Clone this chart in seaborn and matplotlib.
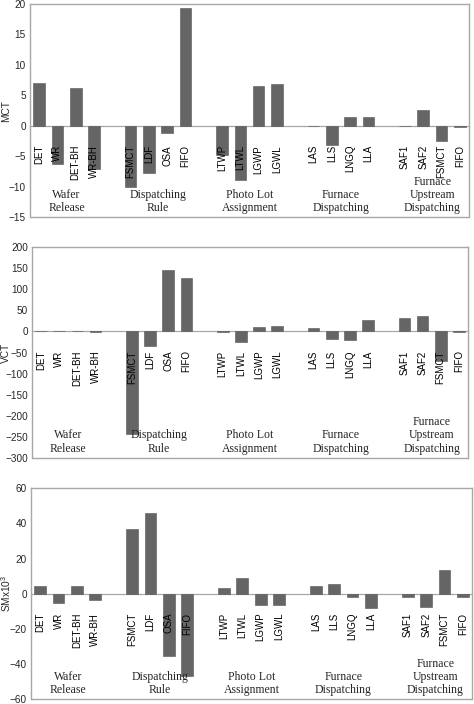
import matplotlib
matplotlib.use("Agg")
import matplotlib.pyplot as plt
import matplotlib.transforms as mtransforms
import numpy as np
import pandas as pd
import seaborn as sns

# ---------------- data ----------------
groups = ["Wafer\nRelease", "Dispatching\nRule", "Photo Lot\nAssignment",
          "Furnace\nDispatching", "Furnace\nUpstream\nDispatching"]
members = [["DET", "WR", "DET-BH", "WR-BH"],
           ["FSMCT", "LDF", "OSA", "FIFO"],
           ["LTWP", "LTWL", "LGWP", "LGWL"],
           ["LAS", "LLS", "LNGQ", "LLA"],
           ["SAF1", "SAF2", "FSMCT", "FIFO"]]

mct = [7.0, -6.3, 6.2, -7.0,
       -10.1, -7.8, -1.2, 19.3,
       -4.7, -8.9, 6.6, 6.8,
       0.0, -3.2, 1.4, 1.4,
       0.0, 2.6, -2.5, -0.2]
vct = [0.0, 0.0, 0.0, -1.0,
       -243.0, -34.0, 146.0, 128.0,
       -2.0, -24.0, 11.0, 12.0,
       8.0, -19.0, -21.0, 27.0,
       32.0, 37.0, -71.0, -2.0]
sm = [4.2, -5.3, 4.7, -3.4,
      36.6, 45.9, -35.6, -47.0,
      3.4, 8.9, -6.3, -6.3,
      4.5, 5.5, -1.7, -8.0,
      -2.1, -7.6, 13.3, -2.1]

ylabels = ["MCT", "VCT", "SMx10$^3$"]
ylims = [(-15, 20), (-300, 200), (-60, 60)]
ysteps = [5, 50, 20]

# ---------------- style ----------------
sns.set_style("white")
plt.rcParams["font.family"] = ["Liberation Sans", "DejaVu Sans"]
plt.rcParams["mathtext.fontset"] = "custom"
plt.rcParams["mathtext.rm"] = "Liberation Sans"

BAR = "#656565"
FRAME = "#a8a8a8"

# slot order with gaps between groups
keys, labels, group_of = [], [], []
order = []
for gi, mem in enumerate(members):
    for m in mem:
        k = f"{gi}|{m}"
        keys.append(k)
        labels.append(m)
        group_of.append(gi)
        order.append(k)
    if gi < len(members) - 1:
        order.append(f"gap{gi}")

W, H, DPI = 474, 704, 100
fig = plt.figure(figsize=(W / DPI, H / DPI), dpi=DPI)

# axes boxes in pixels: left, top, right, bottom
boxes = [(30, 4, 469, 217.3), (32, 247.3, 468, 457.7), (31, 488.3, 472, 699.3)]

for p, vals in enumerate([mct, vct, sm]):
    l, t, r, b = boxes[p]
    ax = fig.add_axes([l / W, 1 - b / H, (r - l) / W, (b - t) / H])
    df = pd.DataFrame({"key": keys, "value": vals})
    sns.barplot(data=df, x="key", y="value", order=order, color=BAR,
                saturation=1, width=0.64, errorbar=None, ax=ax,
                edgecolor="#555555", linewidth=0.4, zorder=2)
    lo, hi = ylims[p]
    ax.set_ylim(lo, hi)
    ax.set_yticks(np.arange(lo, hi + 0.1, ysteps[p]))
    ax.set_xlim(-0.5, len(order) - 0.5)
    ax.set_xlabel("")
    ax.set_ylabel(ylabels[p], fontsize=7.3, va="center")
    ax.yaxis.set_label_coords(-(l - 6) / (r - l), 0.5)

    # zero axis with boundary tick marks
    ax.spines["bottom"].set_position(("data", 0))
    ax.spines["bottom"].set_color(FRAME)
    ax.spines["bottom"].set_linewidth(0.9)
    ax.spines["bottom"].set_zorder(1)
    ax.set_xticks([i + 0.5 for i in range(len(order) - 1)])
    ax.set_xticklabels([])
    ax.tick_params(axis="x", direction="in", length=3, color=FRAME, width=0.8)
    ax.tick_params(axis="y", direction="in", length=3, color=FRAME, width=0.8,
                   labelsize=7.2, pad=3)
    for s in ["top", "left", "right"]:
        ax.spines[s].set_color(FRAME)
        ax.spines[s].set_linewidth(1.0)
    ax.plot([0, 1], [0, 0], transform=ax.transAxes, color=FRAME, lw=1.0,
            clip_on=False)

    # category labels (rotated) below zero line
    for k, lab in zip(keys, labels):
        x = order.index(k)
        ax.annotate(lab, xy=(x, 0), xytext=(0, -19), textcoords="offset pixels",
                    rotation=90, ha="center", va="top", fontsize=7,
                    color="black", zorder=5)

    # group labels near the bottom
    trans = mtransforms.blended_transform_factory(ax.transData, ax.transAxes)
    for gi, g in enumerate(groups):
        xs = [order.index(k) for k, gg in zip(keys, group_of) if gg == gi]
        xc = (min(xs) + max(xs)) / 2
        ax.annotate(g, xy=(xc, 0), xycoords=trans, xytext=(0, 3),
                    textcoords="offset pixels", ha="center", va="bottom",
                    multialignment="center", fontsize=8.5, linespacing=1.15,
                    family=["Liberation Serif", "DejaVu Serif"], zorder=5)

fig.savefig("out.png", dpi=DPI)
